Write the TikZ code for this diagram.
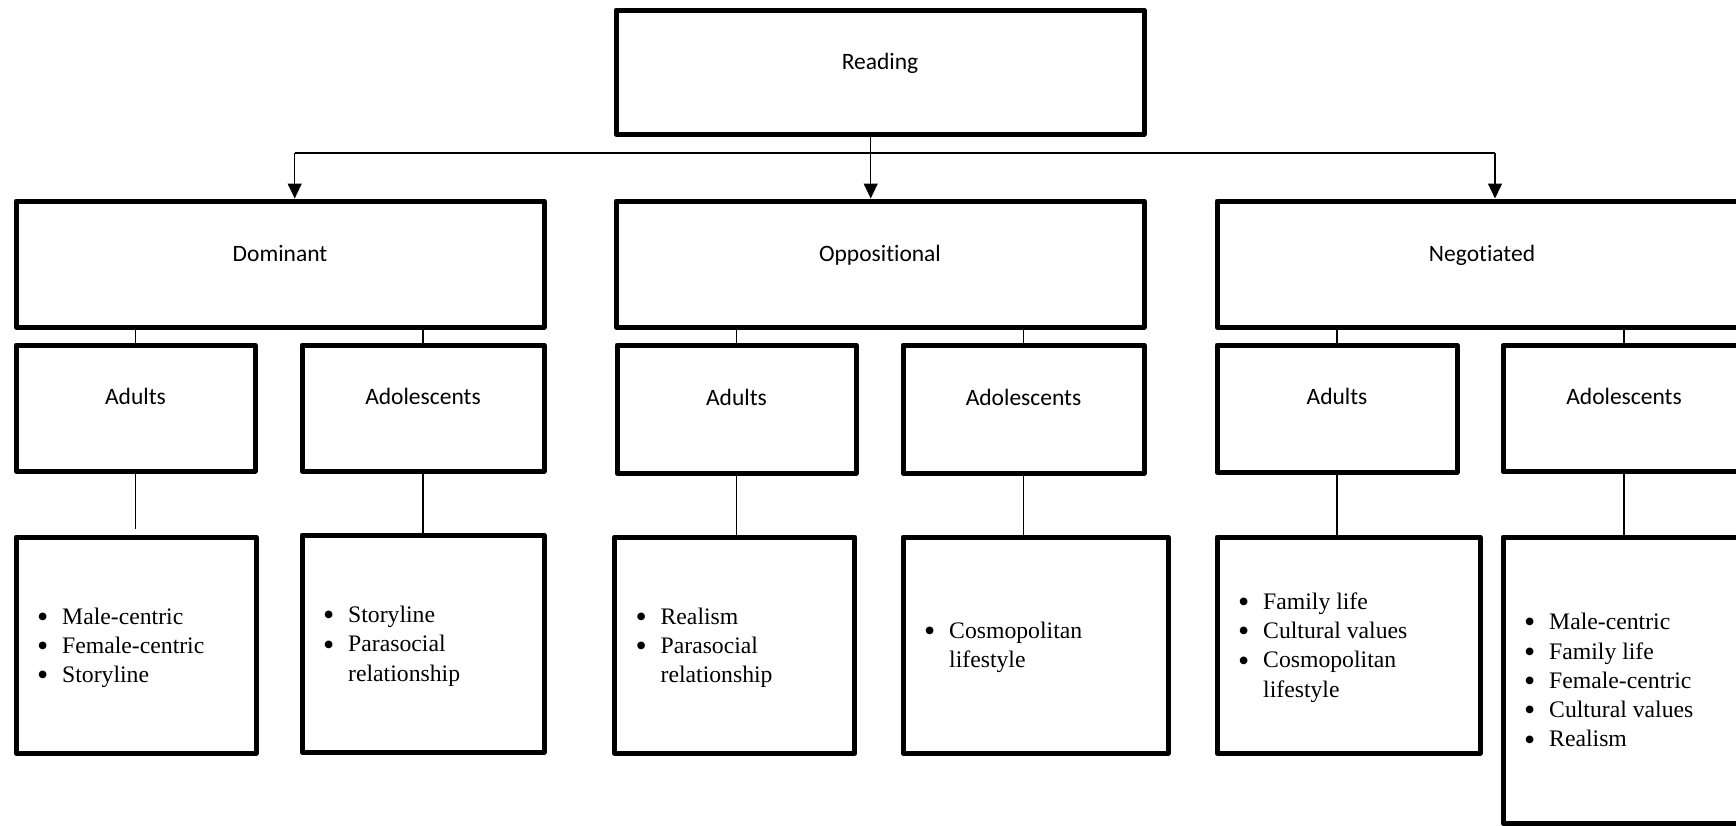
\documentclass[tikz,border=0pt]{standalone}
\usepackage{fontspec}
\setmainfont{Carlito}[Ligatures=NoCommon]
\newfontfamily\tnr{Liberation Serif}
\usetikzlibrary{arrows.meta}
\newcommand{\bul}{\raisebox{-3.2pt}{\scalebox{1.35}{\textbullet}}}
\newcommand{\bi}[1]{\hbox{\makebox[25pt][l]{\bul}#1}}
\newcommand{\bc}[1]{\hbox{\hspace{25pt}#1}}
\newcommand{\blist}[1]{\vtop{\baselineskip=29.3pt\lineskiplimit=-10pt #1}}
\begin{document}
\begin{tikzpicture}[x=1pt,y=-1pt,
  box/.style={draw=black, line width=5pt, line join=round, rectangle, inner sep=0pt, fill=white},
  lbl/.style={font=\fontsize{23.5}{28}\selectfont, anchor=base, inner sep=0pt},
  lst/.style={font=\tnr\fontsize{23.7}{29.3}\selectfont, anchor=base west, inner sep=0pt},
  conn/.style={draw=black, line width=1.3pt},
  arr/.style={conn, -{Triangle[length=15pt,width=14pt]}}]
\useasboundingbox (0,0) rectangle (1736,825);
\fill[white] (0,0) rectangle (1736,825);
\clip (0,0) rectangle (1736,825);
% level 1
\node[box, minimum width=528pt, minimum height=124pt] (read) at (880,72) {};
% level 2
\node[box, minimum width=528pt, minimum height=126pt] (dom) at (280,264) {};
\node[box, minimum width=528pt, minimum height=126pt] (opp) at (880,264) {};
\node[box, minimum width=530pt, minimum height=126pt] (neg) at (1482,264) {};
% level 3
\node[box, minimum width=239pt, minimum height=126pt] (dA) at (135.5,408) {};
\node[box, minimum width=242pt, minimum height=126pt] (dD) at (423,408) {};
\node[box, minimum width=239pt, minimum height=128pt] (oA) at (736.5,409) {};
\node[box, minimum width=241pt, minimum height=128pt] (oD) at (1023.5,409) {};
\node[box, minimum width=240pt, minimum height=127pt] (nA) at (1337,408.5) {};
\node[box, minimum width=242pt, minimum height=126.5pt] (nD) at (1624,408.7) {};
% level 4
\node[box, minimum width=240pt, minimum height=216pt] (dAL) at (136,645) {};
\node[box, minimum width=242pt, minimum height=217pt] (dDL) at (423,643.5) {};
\node[box, minimum width=240.5pt, minimum height=216pt] (oAL) at (734.7,645) {};
\node[box, minimum width=265pt, minimum height=216pt] (oDL) at (1035.5,645) {};
\node[box, minimum width=263pt, minimum height=216pt] (nAL) at (1348.5,645) {};
\node[box, minimum width=242pt, minimum height=286pt] (nDL) at (1624,680) {};
% labels
\node[lbl] (tread) at ([yshift=2.7pt]read.center) {Reading};
\node[lbl] (tdom) at ([yshift=3pt]dom.center) {Dominant};
\node[lbl] (topp) at ([yshift=3pt]opp.center) {Oppositional};
\node[lbl] (tneg) at ([yshift=3pt]neg.center) {Negotiated};
\node[lbl] (tdA) at ([yshift=4pt]dA.center) {Adults};
\node[lbl] (tdD) at ([yshift=4pt]dD.center) {Adolescents};
\node[lbl] (toA) at ([yshift=4pt]oA.center) {Adults};
\node[lbl] (toD) at ([yshift=4pt]oD.center) {Adolescents};
\node[lbl] (tnA) at ([yshift=4pt]nA.center) {Adults};
\node[lbl] (tnD) at ([yshift=4pt]nD.center) {Adolescents};
% lists
\node[lst] (ldA) at ([xshift=23.5pt,yshift=21pt]dAL.west) {\blist{\bi{Male-centric}\bi{Female-centric}\bi{Storyline}}};
\node[lst] (ldD) at ([xshift=23.5pt,yshift=21pt]dDL.west) {\blist{\bi{Storyline}\bi{Parasocial}\bc{relationship}}};
\node[lst] (loA) at ([xshift=23.5pt,yshift=21pt]oAL.west) {\blist{\bi{Realism}\bi{Parasocial}\bc{relationship}}};
\node[lst] (loD) at ([xshift=23.5pt,yshift=6.4pt]oDL.west) {\blist{\bi{Cosmopolitan}\bc{lifestyle}}};
\node[lst] (lnA) at ([xshift=23.5pt,yshift=35.7pt]nAL.west) {\blist{\bi{Family life}\bi{Cultural values}\bi{Cosmopolitan}\bc{lifestyle}}};
\node[lst] (lnD) at ([xshift=23.5pt,yshift=50.3pt]nDL.west) {\blist{\bi{Male-centric}\bi{Family life}\bi{Female-centric}\bi{Cultural values}\bi{Realism}}};
% connectors level 1 -> 2
\coordinate (hub) at (870.7,153);
\coordinate (hl) at (294.7,153);
\coordinate (hr) at (1495,153);
\draw[conn] (hl) -- (hr);
\draw[arr] (read.south -| hub) -- (opp.north -| hub);
\draw[arr] (hl) -- (dom.north -| hl);
\draw[arr] (hr) -- (neg.north -| hr);
% level 2 -> 3
\draw[conn] (dom.south -| dA.north) -- (dA.north);
\draw[conn] (dom.south -| dD.north) -- (dD.north);
\draw[conn] (opp.south -| oA.north) -- (oA.north);
\draw[conn] (opp.south -| oD.north) -- (oD.north);
\draw[conn] (neg.south -| nA.north) -- (nA.north);
\draw[conn] (neg.south -| nD.north) -- (nD.north);
% level 3 -> 4
\draw[conn] (dA.south) -- ([yshift=6pt]dA.south |- dAL.north);
\draw[conn] (dD.south) -- (dD.south |- dDL.north);
\draw[conn] (oA.south) -- (oA.south |- oAL.north);
\draw[conn] (oD.south) -- (oD.south |- oDL.north);
\draw[conn] (nA.south) -- (nA.south |- nAL.north);
\draw[conn] (nD.south) -- (nD.south |- nDL.north);
\end{tikzpicture}
\end{document}
